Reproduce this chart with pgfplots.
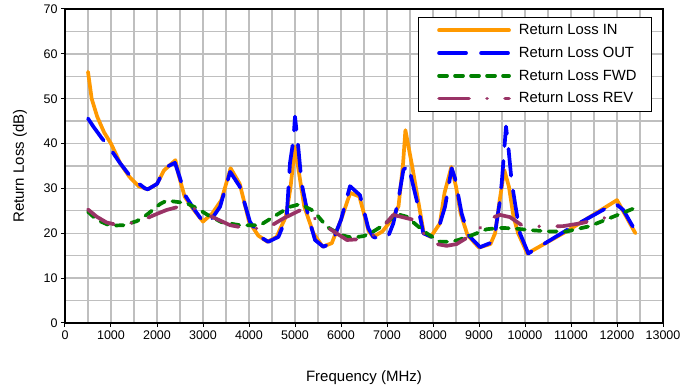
\documentclass[border=0pt]{standalone}
\usepackage{fontspec}
\setmainfont{Liberation Sans}
\usepackage{pgfplots}
\pgfplotsset{compat=1.18}
\definecolor{cin}{HTML}{FF9900}
\definecolor{cout}{HTML}{0000FF}
\definecolor{cfwd}{HTML}{008000}
\definecolor{crev}{HTML}{993366}
\definecolor{gridc}{HTML}{BFBFBF}
\begin{document}
\begin{tikzpicture}
\begin{axis}[
  scale only axis, width=598bp, height=314bp,
  xmin=0, xmax=13000, ymin=0, ymax=70,
  xtick distance=1000, ytick distance=10,
  minor x tick num=1, minor y tick num=1,
  grid=both,
  major grid style={gridc, line width=1.3bp},
  minor grid style={gridc, line width=1.3bp},
  minor tick length=0pt, major tick length=4bp,
  tick align=outside,
  tick style={black, line width=1bp},
  xtick pos=bottom, ytick pos=left,
  axis line style={black, line width=2bp},
  scaled x ticks=false,
  /pgf/number format/1000 sep={},
  /pgf/number format/assume math mode=true,
  ticklabel style={font=\fontsize{12.5bp}{14bp}\selectfont},
  xlabel={Frequency (MHz)}, ylabel={Return Loss (dB)},
  label style={font=\fontsize{15bp}{17bp}\selectfont},
  xlabel style={at={(axis description cs:0.5,-0.1752)}, anchor=center},
  ylabel style={at={(axis description cs:-0.0753,0.5)}, anchor=center},
  legend style={at={(rel axis cs:0.9816,0.9745)}, anchor=north east, draw=black, line width=1bp, fill=white,
    font=\fontsize{14.8bp}{16bp}\selectfont, inner xsep=13bp, inner ysep=5bp, row sep=7bp,
    /tikz/every odd column/.append style={column sep=6bp}},
  legend cell align=left,
  legend image code/.code={\path (0bp,0bp); \draw[#1] plot coordinates {(6bp,0bp) (41bp,0bp) (76bp,0bp)};},
  every axis plot/.append style={line width=3.7bp, line cap=round, line join=round, no markers},
]
\coordinate (bl) at (rel axis cs:0,0);
\coordinate (tr) at (rel axis cs:1,1);
\addplot[cin, solid] coordinates {
(500,56) (580,50) (700,46) (850,42.5) (1000,40) (1200,35.6) (1400,32.6) (1600,30.5) (1800,29.8)
(2000,31) (2150,34) (2400,36.3) (2470,33) (2600,28.2) (2800,25.2) (3000,22.6) (3200,24.4)
(3400,27.4) (3600,34.5) (3800,31) (4000,22.6) (4200,19.5) (4400,18.1) (4600,19.2) (4800,23.7)
(4900,30) (5000,39.3) (5100,32.6) (5200,26) (5400,20) (5600,17) (5800,17.8) (6000,23) (6200,29)
(6400,28.2) (6600,20.5) (6700,19.2) (6900,20.4) (7100,23) (7250,26) (7350,35.6) (7400,43)
(7550,34.8) (7700,25.9) (7800,20) (7950,19.2) (8150,22.2) (8250,29) (8400,34.8) (8500,30.4)
(8600,24.4) (8750,19.6) (9000,16.8) (9250,17.6) (9350,20) (9450,27.4) (9550,34.1) (9650,30.4)
(9750,23.7) (9850,20) (10050,15.5) (10900,20.4) (12000,27.4) (12400,20)
};
\addlegendentry{Return Loss IN}
\addplot[cout, dash pattern=on 27bp off 15bp] coordinates {
(500,45.6) (615,43.8) (800,41.2) (960,39.2) (1200,35.6) (1450,32.3) (1740,30) (1800,29.8)
(2000,31) (2065,32.3) (2210,34.8) (2390,35.7) (2500,32.3) (2610,28.5) (2790,25.6) (3000,22.6)
(3150,22.6) (3370,25.9) (3590,33.7) (3800,30.4) (4020,22.6) (4240,19.2) (4420,18.1) (4640,19.2)
(4820,23.7) (4890,35.6) (4965,40.8) (5000,46) (5070,39.3) (5145,31.1) (5290,23.7) (5435,18.5)
(5616,17) (5800,17.8) (6000,23) (6196,30.5) (6413,28.5) (6594,21.1) (6703,19.2) (6848,18.7)
(7030,19.4) (7137,22.2) (7246,27.4) (7355,34.1) (7463,35.2) (7645,27.4) (7790,20) (7970,19.2)
(8152,22.2) (8261,25.9) (8406,34.5) (8478,32.3) (8623,24.4) (8768,19.6) (9022,16.9) (9239,17.8)
(9348,20) (9457,27.4) (9493,31.1) (9530,36) (9587,43.8) (9637,39.3) (9710,31.5) (9783,26.7)
(9891,20) (10072,15.5) (10906,20.7) (11957,26.7) (12137,25.2) (12428,20)
};
\addlegendentry{Return Loss OUT}
\addplot[cfwd, dash pattern=on 8bp off 8bp] coordinates {
(500,24.8) (690,23) (980,21.7) (1270,21.8) (1560,22.7) (1775,24.1) (2065,26.5) (2210,27.3)
(2430,27) (2645,26.7) (2865,25.6) (3116,24) (3400,22.5) (3800,21.8) (4240,21.8) (4600,24.1)
(4890,25.9) (5110,26.5) (5400,25) (5700,21.4) (6000,19.6) (6250,19) (6500,19.4) (6703,20.4)
(6920,21.8) (7137,23.7) (7283,24.1) (7428,23.7) (7645,21.8) (7862,20) (8152,18.1) (8370,18.1)
(8551,18.5) (8804,19.4) (9167,20.9) (9457,21.2) (9746,21.1) (10109,20.7) (10543,20.4)
(10906,20.4) (11413,21.6) (11920,23.7) (12428,25.8)
};
\addlegendentry{Return Loss FWD}
\addplot[crev, dash pattern=on 30bp off 18bp on 0.01bp off 18bp] coordinates {
(500,25.3) (690,23.7) (906,22.4) (1160,21.8) (1610,22.6) (1993,24.3) (2210,25.2) (2430,25.8)
(2790,25.6) (3190,23.7) (3590,21.8) (3950,21.1) (4384,21.1) (4746,23.3) (5145,25.3) (5471,23)
(5797,20.7) (6130,18.5) (6594,18.8) (6848,20.7) (7137,24.1) (7536,23.1) (7826,19.6) (8080,17.6)
(8297,17.2) (8514,17.6) (8913,20.1) (9239,23.3) (9457,24.1) (9674,23.6) (9928,21.8) (10377,21.5)
(10833,21.6) (11196,22.2) (11594,23.1) (12014,24.1)
};
\addlegendentry{Return Loss REV}
\end{axis}
\pgfresetboundingbox
\path (bl) ++(-65bp,-65bp) rectangle ([shift={(34bp,9bp)}]tr);
\end{tikzpicture}
\end{document}
